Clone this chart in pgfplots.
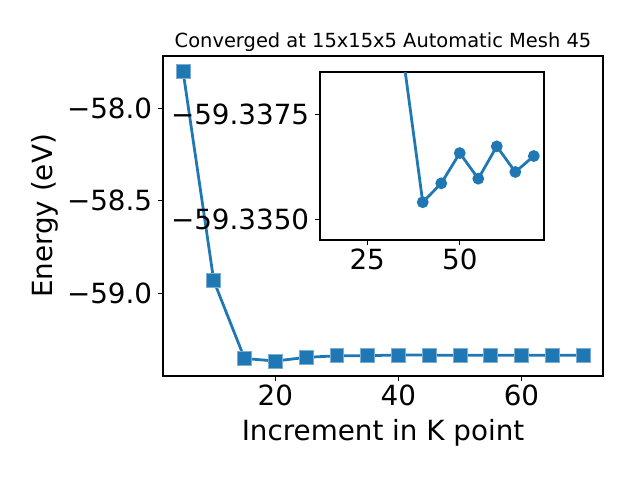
\documentclass[border=0pt]{standalone}
\usepackage{fontspec}
\setmainfont{DejaVu Sans}
\usepackage{pgfplots}
\pgfplotsset{compat=1.18}
\definecolor{mplblue}{HTML}{1F77B4}

\newcommand{\ticksize}{\fontsize{20bp}{24bp}\selectfont}
\newcommand{\titlesize}{\fontsize{14bp}{17bp}\selectfont}

\begin{document}
\begin{tikzpicture}
\path[use as bounding box] (0bp,0bp) rectangle (460.8bp,345.6bp);

\pgfplotsset{
  every axis title shift=0pt,
  mplstyle/.style={
    scale only axis,
    anchor=south west,
    axis line style={black, line width=0.8bp},
    tick align=outside,
    tick pos=left,
    major tick length=3.5bp,
    every tick/.style={black, line width=0.8bp},
    tick label style={font=\ticksize},
    xticklabel style={anchor=north, inner sep=0pt, yshift=-2.8bp},
    yticklabel style={anchor=east, inner sep=0pt, xshift=-4.1bp},
    clip=true,
  },
}

% main axis
\begin{axis}[
  mplstyle,
  at={(117.36bp,74.88bp)},
  width=316.8bp, height=230.4bp,
  xmin=1.75, xmax=73.25,
  ymin=-59.449, ymax=-57.715,
  xtick={20,40,60},
  xticklabels={20,40,60},
  ytick={-58,-58.5,-59},
  yticklabels={−58.0,−58.5,−59.0},
  xlabel={Increment in K point},
  ylabel={Energy (eV)},
  xlabel style={font=\ticksize, at={(axis description cs:0.5,-0.202)}, anchor=base, inner sep=0pt},
  ylabel style={font=\ticksize, at={(axis description cs:-0.268,0.5)}, anchor=center, inner sep=0pt},
  title={Converged at 15x15x5 Automatic Mesh 45},
  title style={font=\titlesize, at={(axis description cs:0.5,1.028)}, anchor=base, inner sep=0pt},
]
\addplot[color=mplblue, line width=2bp, mark=square*, mark size=5bp,
  mark options={fill=mplblue, draw=mplblue!60!white, line width=0.5bp}]
  coordinates {
  (5,-57.796) (10,-58.933) (15,-59.354) (20,-59.368) (25,-59.348)
  (30,-59.3395) (35,-59.3387) (40,-59.33542) (45,-59.33587) (50,-59.33659)
  (55,-59.33598) (60,-59.33675) (65,-59.33614) (70,-59.33652)
};
\end{axis}

% inset
\begin{axis}[
  mplstyle,
  at={(230.4bp,172.8bp)},
  width=161.28bp, height=120.96bp,
  axis background/.style={fill=white},
  xmin=12.25, xmax=72.75,
  ymin=-59.33852, ymax=-59.33452,
  y dir=reverse,
  xtick={25,50},
  xticklabels={25,50},
  ytick={-59.3375,-59.3350},
  yticklabels={−59.3375,−59.3350},
]
\addplot[color=mplblue, line width=2bp, mark=*, mark size=3.2bp,
  mark options={fill=mplblue, draw=mplblue}]
  coordinates {
  (15,-59.354) (20,-59.368) (25,-59.348)
  (30,-59.3395) (35,-59.3387) (40,-59.33542) (45,-59.33587) (50,-59.33659)
  (55,-59.33598) (60,-59.33675) (65,-59.33614) (70,-59.33652)
};
\end{axis}
\end{tikzpicture}
\end{document}
